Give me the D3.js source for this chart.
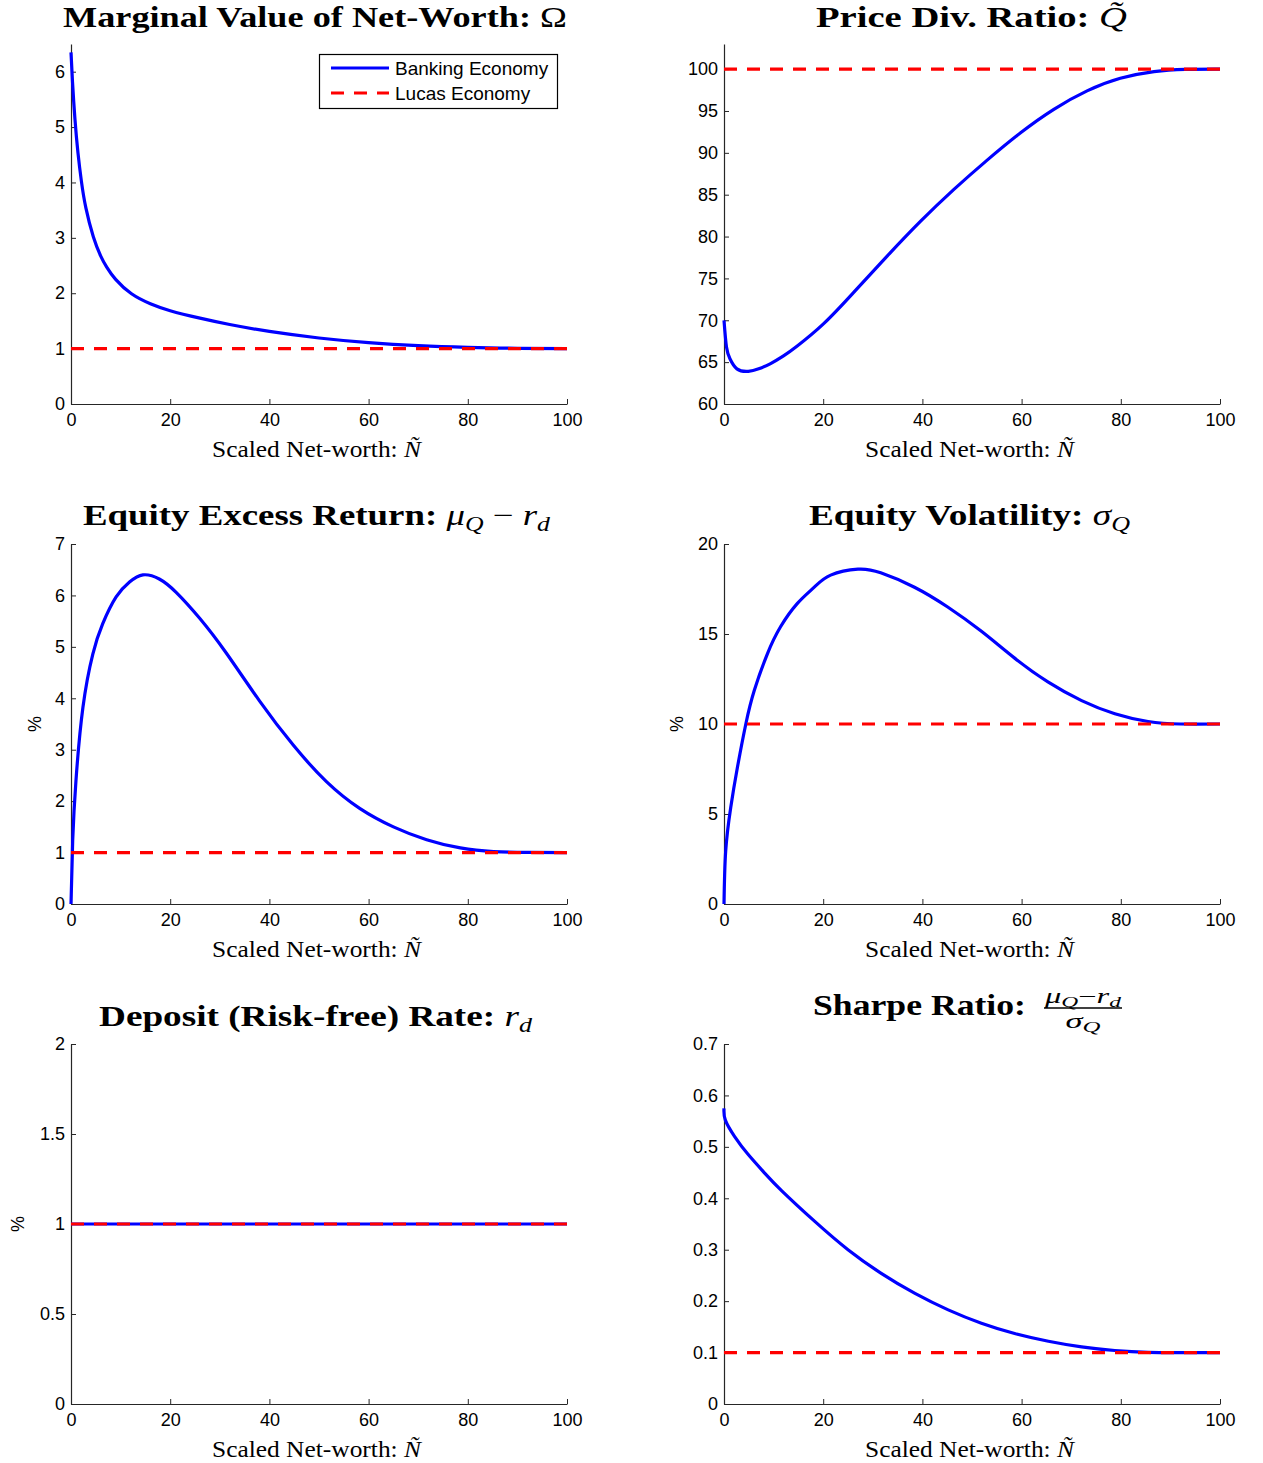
<!DOCTYPE html>
<html><head><meta charset="utf-8">
<script src="https://cdn.jsdelivr.net/npm/d3@7"></script>
<style>body{margin:0;background:#fff}svg{display:block}</style>
</head><body>
<svg id="c" width="1263" height="1463"></svg>
<script>
// ---------------- data ----------------
const xTicks = [0, 20, 40, 60, 80, 100];
const lucasN = [0, 100];

const omegaN = [0, 0.3, 0.8, 1.4, 2.1, 3.0, 4.5, 6, 7.2, 9, 12.2, 16, 20, 26, 32, 40, 50, 60, 70, 80, 90, 100];
const omegaV = [6.35, 5.82, 5.14, 4.54, 4.02, 3.54, 3.02, 2.67, 2.47, 2.25, 1.99, 1.81, 1.685, 1.55, 1.435, 1.31, 1.192, 1.108, 1.054, 1.023, 1.006, 1.0];
const omegaLucas = 1;
const omegaDomain = [0, 6.5];
const omegaTicks = [0, 1, 2, 3, 4, 5, 6];

const qN = [0, 0.5, 1.2, 2.6, 4.9, 7, 9.3, 12, 14.7, 20.1, 26.1, 32.8, 39.6, 46.3, 53.0, 59.8, 66.5, 73.2, 79.9, 86.7, 93, 100];
const qV = [70, 66.8, 65.4, 64.2, 63.9, 64.2, 64.8, 65.75, 66.9, 69.6, 73.3, 77.6, 81.8, 85.6, 89.1, 92.4, 95.2, 97.4, 98.9, 99.7, 99.97, 100];
const qLucas = 100;
const qDomain = [60, 103];
const qTicks = [60, 65, 70, 75, 80, 85, 90, 95, 100];

const exN = [0, 0.34, 1.0, 2.4, 4.4, 6.4, 9.1, 11.8, 14.5, 17.8, 21.2, 25.9, 31.3, 38.0, 44.8, 51.5, 58.2, 65.0, 71.7, 78.5, 85.2, 92, 100];
const exV = [0, 1.23, 2.4, 3.82, 4.86, 5.45, 5.97, 6.26, 6.40, 6.32, 6.06, 5.56, 4.88, 3.95, 3.09, 2.38, 1.86, 1.50, 1.25, 1.09, 1.02, 1.003, 1.0];
const exLucas = 1;
const exDomain = [0, 7];
const exTicks = [0, 1, 2, 3, 4, 5, 6, 7];

const volN = [0, 0.34, 1.35, 2.7, 4.4, 6.1, 8.75, 11.4, 14.8, 18.2, 21.5, 27, 31.6, 38.4, 45.1, 51.9, 58.6, 65.3, 72.1, 78.8, 85.5, 92, 100];
const volV = [0, 2.94, 5.35, 7.58, 10.0, 11.86, 13.9, 15.4, 16.7, 17.6, 18.27, 18.6, 18.4, 17.6, 16.5, 15.15, 13.66, 12.34, 11.3, 10.57, 10.14, 10.0, 10.0];
const volLucas = 10;
const volDomain = [0, 20];
const volTicks = [0, 5, 10, 15, 20];

const rdN = [0, 100];
const rdV = [1, 1];
const rdLucas = 1;
const rdDomain = [0, 2];
const rdTicks = [0, 0.5, 1, 1.5, 2];

const srN = [0, 0.27, 2.15, 4.8, 8.2, 11.6, 18.3, 25.0, 31.7, 38.5, 45.2, 51.9, 58.6, 65.4, 72.1, 78.8, 85.5, 92, 100];
const srV = [0.575, 0.552, 0.52, 0.486, 0.449, 0.415, 0.355, 0.300, 0.254, 0.215, 0.183, 0.157, 0.137, 0.122, 0.111, 0.104, 0.1005, 0.1, 0.1];
const srLucas = 0.1;
const srDomain = [0, 0.7];
const srTicks = [0, 0.1, 0.2, 0.3, 0.4, 0.5, 0.6, 0.7];

const seriesNames = ["Banking Economy", "Lucas Economy"];
const xLabelText = "Scaled Net-worth: ";

// ---------------- drawing ----------------
const SERIF = "'Liberation Serif', 'Times New Roman', serif";
const SANS = "'Liberation Sans', Arial, sans-serif";
const BLUE = "#0000ff", RED = "#ff0000";
const DASH = "13,10";
const PW = 496, PH = 360;

const svg = d3.select("#c");
svg.append("rect").attr("width", 1263).attr("height", 1463).attr("fill", "#fff");

const panels = [
  {x0: 71, y0: 44, N: omegaN, V: omegaV, lucas: omegaLucas, dom: omegaDomain, ticks: omegaTicks, legend: true,
   title: [{t: "Marginal Value of Net-Worth: ", b: 1}, {t: "\u03A9"}], tb: [63, 567, 27]},
  {x0: 724, y0: 44, N: qN, V: qV, lucas: qLucas, dom: qDomain, ticks: qTicks,
   title: [{t: "Price Div. Ratio: ", b: 1}, {t: "Q\u0303", i: 1}], tb: [816, 1127, 27]},
  {x0: 71, y0: 544, N: exN, V: exV, lucas: exLucas, dom: exDomain, ticks: exTicks, pct: 35,
   title: [{t: "Equity Excess Return: ", b: 1}, {t: "\u03BC", i: 1}, {t: "Q", i: 1, sub: 1}, {t: " \u2212 "}, {t: "r", i: 1}, {t: "d", i: 1, sub: 1}], tb: [83, 550, 525]},
  {x0: 724, y0: 544, N: volN, V: volV, lucas: volLucas, dom: volDomain, ticks: volTicks, pct: 677,
   title: [{t: "Equity Volatility: ", b: 1}, {t: "\u03C3", i: 1}, {t: "Q", i: 1, sub: 1}], tb: [809, 1130, 525]},
  {x0: 71, y0: 1044, N: rdN, V: rdV, lucas: rdLucas, dom: rdDomain, ticks: rdTicks, pct: 18,
   title: [{t: "Deposit (Risk-free) Rate: ", b: 1}, {t: "r", i: 1}, {t: "d", i: 1, sub: 1}], tb: [99, 532, 1026]},
  {x0: 724, y0: 1044, N: srN, V: srV, lucas: srLucas, dom: srDomain, ticks: srTicks, sharpe: true,
   title: [{t: "Sharpe Ratio:", b: 1}], tb: [813, 1026, 1015]}
];

function drawTitle(parts, x1, x2, base, size) {
  const t = svg.append("text").attr("x", (x1 + x2) / 2).attr("y", base)
    .attr("text-anchor", "middle").attr("font-family", SERIF).attr("font-size", size).attr("fill", "#000");
  let shifted = false;
  parts.forEach(p => {
    const ts = t.append("tspan").text(p.t);
    if (p.b) ts.attr("font-weight", "bold");
    if (p.i) ts.attr("font-style", "italic");
    if (p.sub) { ts.attr("font-size", size * 0.7).attr("dy", size * 0.22); shifted = true; }
    else if (shifted) { ts.attr("dy", -size * 0.22); shifted = false; }
  });
  t.attr("textLength", x2 - x1).attr("lengthAdjust", "spacingAndGlyphs");
  return t;
}

function mathText(x, base, parts, size, width) {
  const t = svg.append("text").attr("x", x).attr("y", base).attr("text-anchor", "middle")
    .attr("font-family", SERIF).attr("font-size", size);
  let shifted = false;
  parts.forEach(p => {
    const ts = t.append("tspan").text(p.t);
    if (p.i) ts.attr("font-style", "italic");
    if (p.sub) { ts.attr("font-size", size * 0.72).attr("dy", size * 0.2); shifted = true; }
    else if (shifted) { ts.attr("dy", -size * 0.2); shifted = false; }
  });
  if (width) t.attr("textLength", width).attr("lengthAdjust", "spacingAndGlyphs");
}

const fmt = v => String(+v.toFixed(4));

panels.forEach(p => {
  const x = d3.scaleLinear().domain([0, 100]).range([p.x0, p.x0 + PW]);
  const y = d3.scaleLinear().domain(p.dom).range([p.y0 + PH, p.y0]);
  const g = svg.append("g");

  const xa = g.append("g").attr("transform", `translate(0,${p.y0 + PH})`)
    .call(d3.axisBottom(x).tickValues(xTicks).tickSizeInner(-5).tickSizeOuter(0).tickPadding(9).tickFormat(fmt));
  const ya = g.append("g").attr("transform", `translate(${p.x0},0)`)
    .call(d3.axisLeft(y).tickValues(p.ticks).tickSizeInner(-5).tickSizeOuter(0).tickPadding(6).tickFormat(fmt));
  [xa, ya].forEach(a => {
    a.select(".domain").attr("stroke", "#262626").attr("stroke-width", 1.2);
    a.selectAll(".tick line").attr("stroke", "#262626");
    a.selectAll("text").attr("font-family", SANS).attr("font-size", 18).attr("fill", "#000");
  });

  const line = d3.line().x(d => x(d[0])).y(d => y(d[1])).curve(d3.curveNatural);
  g.append("path").datum(p.N.map((n, i) => [n, p.V[i]]))
    .attr("d", line).attr("fill", "none").attr("stroke", BLUE).attr("stroke-width", 3.2).attr("stroke-linejoin", "round");
  g.append("path").datum(lucasN.map(n => [n, p.lucas]))
    .attr("d", line).attr("fill", "none").attr("stroke", RED).attr("stroke-width", 3.2).attr("stroke-dasharray", DASH);

  // x label
  const xl = svg.append("text").attr("x", p.x0 + PW / 2 - 2.5).attr("y", p.y0 + PH + 53)
    .attr("text-anchor", "middle").attr("font-family", SERIF).attr("font-size", 23).attr("fill", "#000");
  xl.append("tspan").text(xLabelText);
  xl.append("tspan").attr("font-style", "italic").text("\u00D1");
  xl.attr("textLength", 209).attr("lengthAdjust", "spacingAndGlyphs");

  if (p.pct) {
    svg.append("text").attr("transform", `translate(${p.pct},${p.y0 + PH / 2}) rotate(-90)`)
      .attr("text-anchor", "middle").attr("dy", "0.35em").attr("font-family", SANS).attr("font-size", 18).text("%");
  }

  drawTitle(p.title, p.tb[0], p.tb[1], p.tb[2], 29);

  if (p.sharpe) {
    mathText(1083, 1003, [{t: "\u03BC", i: 1}, {t: "Q", i: 1, sub: 1}, {t: "\u2212"}, {t: "r", i: 1}, {t: "d", i: 1, sub: 1}], 20, 76);
    svg.append("line").attr("x1", 1044).attr("x2", 1122).attr("y1", 1008).attr("y2", 1008)
      .attr("stroke", "#000").attr("stroke-width", 1.3);
    mathText(1083, 1028, [{t: "\u03C3", i: 1}, {t: "Q", i: 1, sub: 1}], 20, 35);
  }

  if (p.legend) {
    const lg = svg.append("g");
    lg.append("rect").attr("x", 319.5).attr("y", 54.5).attr("width", 238).attr("height", 54)
      .attr("fill", "#fff").attr("stroke", "#000").attr("stroke-width", 1.2);
    const items = [{c: BLUE, dash: null, yy: 68}, {c: RED, dash: DASH, yy: 93}];
    items.forEach((it, i) => {
      lg.append("line").attr("x1", 331).attr("x2", 389).attr("y1", it.yy).attr("y2", it.yy)
        .attr("stroke", it.c).attr("stroke-width", 3.2).attr("stroke-dasharray", it.dash);
      lg.append("text").attr("x", 395).attr("y", it.yy).attr("dy", "0.35em")
        .attr("font-family", SANS).attr("font-size", 19).attr("fill", "#000").text(seriesNames[i]);
    });
  }
});
</script>
</body></html>
